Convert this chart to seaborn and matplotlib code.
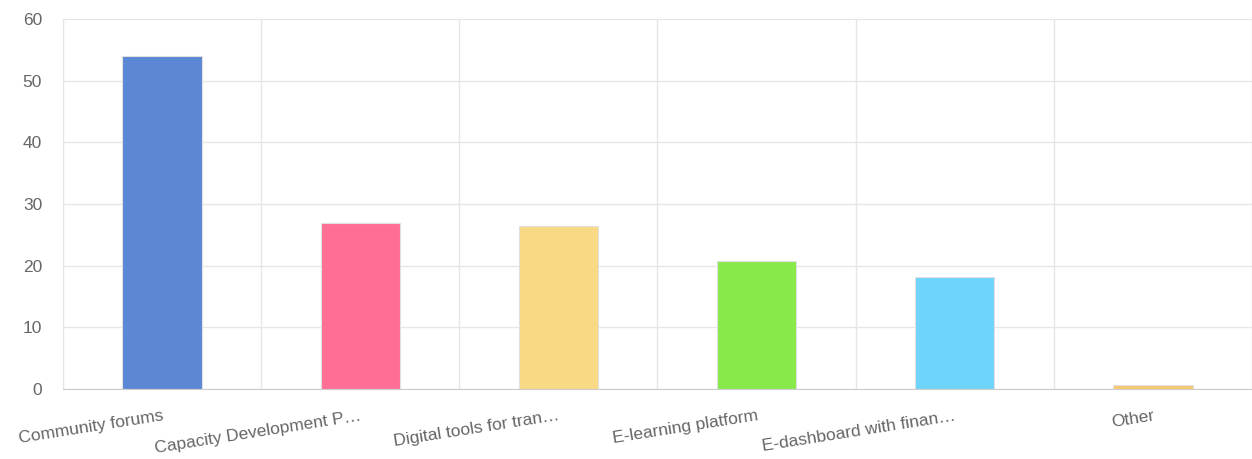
import numpy as np
import pandas as pd
import seaborn as sns
import matplotlib.pyplot as plt

categories = ["Community forums", "Capacity Development P\u2026", "Digital tools for tran\u2026",
              "E-learning platform", "E-dashboard with finan\u2026", "Other"]
values = [54, 27, 26.4, 20.8, 18.2, 0.6]
colors = ["#5b87d4", "#ff6e94", "#f9d984", "#88e94b", "#6fd4fc", "#f9c76e"]

sns.set_style("white")
plt.rcParams['font.family'] = ['Liberation Sans', 'DejaVu Sans']

df = pd.DataFrame({"category": categories, "value": values})

fig = plt.figure(figsize=(12.52, 4.59), dpi=100)
ax = fig.add_axes([0.0503, 0.1525, 0.9497, 0.806])

sns.barplot(data=df, x="category", y="value", hue="category", palette=colors,
            saturation=1, width=0.4, legend=False, ax=ax,
            edgecolor="#e0e0e0", linewidth=0.8)

ax.set_ylim(0, 60)
ax.set_xlim(-0.5, 5.5)
ax.set_yticks(range(0, 61, 10))
ax.set_xlabel("")
ax.set_ylabel("")

grid_c = "#e6e6e6"
ax.set_xticks(np.arange(-0.5, 6, 1), minor=True)
ax.grid(axis="y", color=grid_c, linewidth=1)
ax.grid(axis="x", which="minor", color=grid_c, linewidth=1)
ax.set_axisbelow(True)

ax.tick_params(axis="y", length=8, color=grid_c, labelsize=12.5, labelcolor="#666666", pad=7)
ax.tick_params(axis="x", which="major", length=0, labelsize=12.5, labelcolor="#666666", pad=14)
ax.tick_params(axis="x", which="minor", length=11, color=grid_c)
ax.set_xticks(range(len(categories)))
ax.set_xticklabels(categories, rotation=9, ha="right", rotation_mode="anchor")

for s in ["top", "right"]:
    ax.spines[s].set_visible(False)
ax.spines["left"].set_color(grid_c)
ax.spines["bottom"].set_color("#cccccc")

fig.savefig("out.png", dpi=100)
